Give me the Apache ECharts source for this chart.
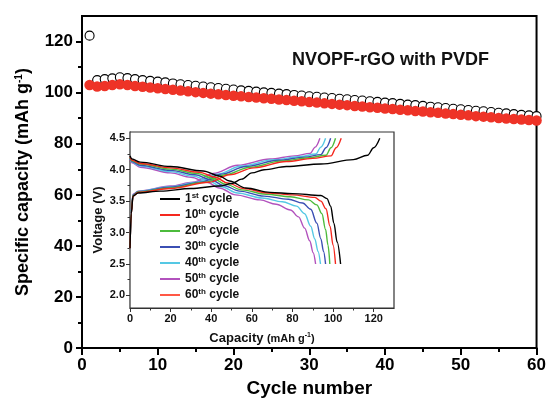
<!DOCTYPE html>
<html>
<head>
<meta charset="utf-8">
<script src="https://cdn.jsdelivr.net/npm/echarts@6/dist/echarts.min.js"></script>
<style>
  html, body { margin: 0; padding: 0; background: #fff; }
  #chart { width: 549px; height: 403px; }
</style>
</head>
<body>
<div id="chart"></div>
<script>
// Cycling performance: charge (open) and discharge (filled) capacity per cycle
const cycles = Array.from({ length: 60 }, (_, i) => i + 1);
const chargeCapacity = [
  122.3, 104.9, 105.3, 105.6, 106.0, 105.7, 105.3, 104.9, 104.6, 104.3,
  104.0, 103.6, 103.3, 103.0, 102.7, 102.4, 102.1, 101.8, 101.5, 101.2,
  100.9, 100.7, 100.4, 100.1, 99.9, 99.6, 99.4, 99.1, 98.9, 98.6,
  98.4, 98.1, 97.9, 97.6, 97.4, 97.1, 96.9, 96.6, 96.4, 96.1,
  95.9, 95.6, 95.3, 95.1, 94.8, 94.5, 94.3, 94.0, 93.7, 93.5,
  93.2, 92.9, 92.7, 92.4, 92.1, 91.9, 91.6, 91.3, 91.1, 90.8
];
const dischargeCapacity = [
  103.0, 102.4, 102.6, 103.0, 103.3, 103.0, 102.6, 102.3, 102.0, 101.7,
  101.4, 101.1, 100.8, 100.5, 100.2, 99.9, 99.6, 99.4, 99.1, 98.8,
  98.6, 98.3, 98.1, 97.8, 97.6, 97.3, 97.1, 96.8, 96.6, 96.3,
  96.1, 95.8, 95.6, 95.3, 95.1, 94.8, 94.6, 94.3, 94.1, 93.8,
  93.6, 93.3, 93.1, 92.8, 92.6, 92.3, 92.1, 91.8, 91.6, 91.3,
  91.1, 90.8, 90.6, 90.4, 90.1, 89.9, 89.7, 89.5, 89.3, 89.1
];

// Voltage profiles [capacity mAh/g, voltage V] for selected cycles
const profileCycles = ['1st cycle', '10th cycle', '20th cycle', '30th cycle', '40th cycle', '50th cycle', '60th cycle'];
const profileColors = ['#000000', '#f5281e', '#4cbb3c', '#3b4fb3', '#55c8e4', '#b252bd', '#ff5845'];

const charge1 = [[0,2.75],[0.6,3.3],[1.5,3.58],[4,3.63],[15,3.66],[30,3.7],[44,3.74],[50,3.78],[55,3.85],[60,3.95],[66,4.0],[77,4.05],[94,4.09],[110,4.16],[117,4.23],[120,4.35],[123,4.5]];
const charge10 = [[0,2.75],[0.6,3.3],[1.5,3.58],[4,3.64],[20,3.7],[39,3.8],[49,3.92],[61,4.03],[77,4.13],[90,4.18],[99,4.22],[101.5,4.35],[104,4.5]];
const charge20 = [[0,2.75],[0.6,3.32],[1.5,3.59],[4,3.645],[20,3.71],[37,3.8],[47,3.92],[59,4.04],[75,4.14],[88,4.19],[96.5,4.23],[99,4.35],[101.2,4.5]];
const charge30 = [[0,2.75],[0.6,3.33],[1.5,3.6],[4,3.65],[20,3.72],[35,3.8],[45,3.93],[57,4.05],[73,4.15],[86,4.2],[94,4.24],[96.5,4.35],[98.8,4.5]];
const charge40 = [[0,2.75],[0.6,3.34],[1.5,3.6],[4,3.655],[20,3.73],[33,3.8],[43,3.93],[55,4.06],[71,4.16],[84,4.21],[91.5,4.25],[94,4.36],[96.3,4.5]];
const charge50 = [[0,2.75],[0.6,3.35],[1.5,3.61],[4,3.66],[20,3.74],[31,3.8],[41,3.94],[53,4.07],[69,4.17],[81,4.22],[88.7,4.26],[91.2,4.36],[93.5,4.5]];
const charge60 = [[0,2.75],[0.6,3.36],[1.5,3.62],[4,3.67],[20,3.75],[29,3.8],[39,3.95],[51,4.08],[67,4.18],[78,4.23],[85.7,4.27],[88.2,4.37],[90.5,4.5]];

const discharge1 = [[0,4.22],[1,4.17],[5,4.12],[20,4.05],[36,3.98],[44,3.9],[49,3.82],[57,3.71],[69,3.64],[80,3.62],[94,3.59],[97,3.54],[98.8,3.42],[100.4,3.15],[102,2.85],[103.7,2.5]];
const discharge10 = [[0,4.2],[1,4.15],[5,4.1],[20,4.03],[34,3.96],[42,3.88],[48,3.79],[56,3.7],[68,3.63],[80,3.6],[91,3.56],[94,3.5],[96.5,3.38],[98.5,3.1],[100,2.8],[101.2,2.5]];
const discharge20 = [[0,4.19],[1,4.14],[5,4.09],[20,4.01],[33,3.94],[41,3.86],[47,3.77],[55,3.68],[67,3.61],[79,3.57],[88,3.52],[92,3.44],[94.5,3.3],[96.3,3.05],[97.5,2.8],[98.4,2.5]];
const discharge30 = [[0,4.18],[1,4.13],[5,4.07],[20,3.99],[32,3.92],[40,3.84],[46,3.75],[54,3.66],[66,3.58],[78,3.53],[85,3.47],[89,3.37],[92,3.15],[94,2.9],[95.3,2.7],[96.3,2.5]];
const discharge40 = [[0,4.17],[1,4.12],[5,4.06],[20,3.97],[31,3.9],[39,3.82],[45,3.73],[53,3.63],[65,3.55],[75,3.49],[82,3.42],[86,3.3],[89,3.1],[91,2.9],[92.6,2.7],[93.8,2.5]];
const discharge50 = [[0,4.16],[1,4.11],[5,4.04],[20,3.95],[30,3.88],[38,3.8],[44,3.71],[52,3.6],[64,3.52],[72,3.45],[79,3.36],[83,3.25],[86,3.07],[88.5,2.87],[90.2,2.68],[91.4,2.5]];
const discharge60 = [[0,4.15],[1,4.1],[5,4.02],[20,3.93],[29,3.86],[37,3.78],[43,3.69],[51,3.57],[62,3.48],[70,3.41],[76,3.32],[80,3.2],[83.5,3.02],[86,2.83],[87.7,2.66],[88.9,2.5]];

const chargeProfiles = [charge1, charge10, charge20, charge30, charge40, charge50, charge60];
const dischargeProfiles = [discharge1, discharge10, discharge20, discharge30, discharge40, discharge50, discharge60];

// Tick positions
const mainYLabels = [0, 20, 40, 60, 80, 100, 120];
const mainYMinor = [10, 30, 50, 70, 90, 110];
const insetXLabels = [0, 20, 40, 60, 80, 100, 120];
const insetXMinor = [10, 30, 50, 70, 90, 110];
const insetYLabels = [2.0, 2.5, 3.0, 3.5, 4.0, 4.5];
const insetYMinor = [2.25, 2.75, 3.25, 3.75, 4.25];

const FONT = '"Liberation Sans", Arial, Helvetica, sans-serif';

const chart = echarts.init(document.getElementById('chart'), null, { renderer: 'canvas' });

const series = [
  {
    name: 'charge',
    type: 'scatter',
    xAxisIndex: 0, yAxisIndex: 0,
    symbol: 'circle', symbolSize: 9,
    itemStyle: { color: '#ffffff', borderColor: '#000000', borderWidth: 1.1, opacity: 1 },
    data: cycles.map((c, i) => [c, chargeCapacity[i]]),
    z: 3
  },
  {
    name: 'discharge',
    type: 'scatter',
    xAxisIndex: 0, yAxisIndex: 0,
    symbol: 'circle', symbolSize: 10.5,
    itemStyle: { color: '#ee3327', opacity: 1 },
    data: cycles.map((c, i) => [c, dischargeCapacity[i]]),
    z: 4
  }
];

profileCycles.forEach((name, k) => {
  [chargeProfiles[k], dischargeProfiles[k]].forEach((pts) => {
    series.push({
      name: name,
      type: 'line',
      xAxisIndex: 2, yAxisIndex: 2,
      data: pts,
      showSymbol: false,
      smooth: 0.35,
      smoothMonotone: 'x',
      color: profileColors[k],
      lineStyle: { color: profileColors[k], width: 1.4 },
      z: 10 - k,
      animation: false
    });
  });
});

function ordinal(name) {
  const m = name.match(/^(\d+)(st|nd|rd|th) (.*)$/);
  return '{n|' + m[1] + '}{sup|' + m[2] + '}{n| ' + m[3] + '}';
}

const option = {
  animation: false,
  backgroundColor: '#ffffff',
  textStyle: { fontFamily: FONT },
  title: {
    text: 'NVOPF-rGO with PVDF',
    left: 287, top: 46,
    textStyle: { fontFamily: FONT, fontSize: 18, fontWeight: 'bold', color: '#111' }
  },
  grid: [
    { left: 82, top: 16, right: 10, bottom: 52.5, show: true, borderColor: '#000', borderWidth: 2, backgroundColor: 'transparent' },
    { left: 130, top: 132, right: 155, bottom: 95, show: true, borderColor: '#333', borderWidth: 1.2, backgroundColor: '#ffffff', z: 5 }
  ],
  xAxis: [
    {
      gridIndex: 0, type: 'value', min: 0, max: 60, interval: 10, position: 'bottom',
      axisLine: { lineStyle: { color: '#000', width: 2 } },
      axisTick: { length: 7, lineStyle: { color: '#000', width: 2 } },
      minorTick: { show: true, splitNumber: 2, length: 4, lineStyle: { color: '#000', width: 2 } },
      axisLabel: { fontFamily: FONT, fontSize: 17, fontWeight: 'bold', color: '#000', margin: 9 },
      splitLine: { show: false },
      name: 'Cycle number', nameLocation: 'middle', nameGap: 21,
      nameTextStyle: { fontFamily: FONT, fontSize: 19, fontWeight: 'bold', color: '#000' }
    },
    {
      // minor ticks of the inset capacity axis
      gridIndex: 1, type: 'value', min: 0, max: 130, position: 'bottom',
      axisLine: { show: false },
      axisTick: { length: 2.5, customValues: insetXMinor, lineStyle: { color: '#333', width: 1 } },
      axisLabel: { show: false },
      splitLine: { show: false }
    },
    {
      gridIndex: 1, type: 'value', min: 0, max: 130, position: 'bottom',
      axisLine: { lineStyle: { color: '#333', width: 1.2 } },
      axisTick: { length: 4, customValues: insetXLabels, lineStyle: { color: '#333', width: 1 } },
      axisLabel: { customValues: insetXLabels, fontFamily: FONT, fontSize: 11, fontWeight: 'bold', color: '#111', margin: 5 },
      splitLine: { show: false },
      name: '{b|Capacity} {s|(mAh g}{sup|-1}{s|)}', nameLocation: 'middle', nameGap: 24,
      nameTextStyle: {
        fontFamily: FONT, color: '#111',
        rich: {
          b: { fontFamily: FONT, fontSize: 13, fontWeight: 'bold', color: '#111' },
          s: { fontFamily: FONT, fontSize: 11, fontWeight: 'bold', color: '#111' },
          sup: { fontFamily: FONT, fontSize: 7, fontWeight: 'bold', color: '#111', verticalAlign: 'top', lineHeight: 12 }
        }
      }
    }
  ],
  yAxis: [
    {
      gridIndex: 0, type: 'value', min: 0, max: 130, position: 'left',
      axisLine: { lineStyle: { color: '#000', width: 2 } },
      axisTick: { length: 6, customValues: mainYLabels, lineStyle: { color: '#000', width: 2 } },
      axisLabel: { customValues: mainYLabels, fontFamily: FONT, fontSize: 17, fontWeight: 'bold', color: '#000', margin: 9 },
      splitLine: { show: false },
      name: 'Specific capacity (mAh g{sup|-1})', nameLocation: 'middle', nameGap: 50,
      nameTextStyle: {
        fontFamily: FONT, fontSize: 18, fontWeight: 'bold', color: '#000',
        rich: {
          sup: { fontFamily: FONT, fontSize: 10, fontWeight: 'bold', color: '#000', verticalAlign: 'top', lineHeight: 16 }
        }
      }
    },
    {
      gridIndex: 0, type: 'value', min: 0, max: 130, position: 'left',
      axisLine: { show: false },
      axisTick: { length: 4, customValues: mainYMinor, lineStyle: { color: '#000', width: 2 } },
      axisLabel: { show: false },
      splitLine: { show: false }
    },
    {
      gridIndex: 1, type: 'value', min: 1.8, max: 4.6, position: 'left',
      axisLine: { lineStyle: { color: '#333', width: 1.2 } },
      axisTick: { length: 4, customValues: insetYLabels, lineStyle: { color: '#333', width: 1 } },
      axisLabel: {
        customValues: insetYLabels, fontFamily: FONT, fontSize: 11, fontWeight: 'bold', color: '#111', margin: 5,
        formatter: (v) => v.toFixed(1)
      },
      splitLine: { show: false },
      name: 'Voltage (V)', nameLocation: 'middle', nameGap: 25,
      nameTextStyle: { fontFamily: FONT, fontSize: 13, fontWeight: 'bold', color: '#111' }
    },
    {
      gridIndex: 1, type: 'value', min: 1.8, max: 4.6, position: 'left',
      axisLine: { show: false },
      axisTick: { length: 2.5, customValues: insetYMinor, lineStyle: { color: '#333', width: 1 } },
      axisLabel: { show: false },
      splitLine: { show: false }
    }
  ],
  legend: {
    data: profileCycles,
    orient: 'vertical',
    left: 155, top: 187,
    icon: 'rect',
    itemWidth: 20, itemHeight: 2, itemGap: 3,
    selectedMode: false,
    formatter: ordinal,
    textStyle: {
      fontFamily: FONT, color: '#111',
      rich: {
        n: { fontFamily: FONT, fontSize: 12, fontWeight: 'bold', color: '#111', lineHeight: 14 },
        sup: { fontFamily: FONT, fontSize: 8, fontWeight: 'bold', color: '#111', verticalAlign: 'top', lineHeight: 10 }
      }
    },
    z: 20
  },
  series: series
};

chart.setOption(option);
</script>
</body>
</html>
